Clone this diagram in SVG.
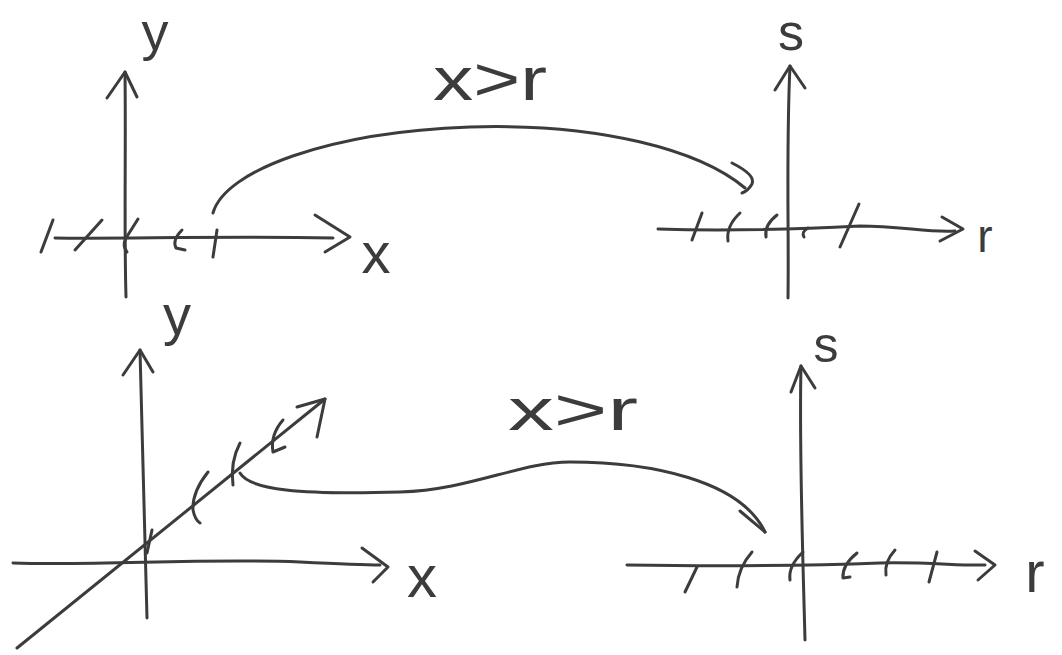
<svg xmlns="http://www.w3.org/2000/svg" width="1062" height="655" viewBox="0 0 1062 655">
<style>
.s{fill:none;stroke:#3c3c3c;stroke-width:3;stroke-linecap:round;stroke-linejoin:round}
.t{fill:#3c3c3c;font-family:"Liberation Sans",Arial,sans-serif;text-anchor:middle}
</style>
<rect width="1062" height="655" fill="#ffffff"/>
<g id="plot-top-left">
<path class="s" d="M126,297 C124,230 126,150 125,72"/>
<path class="s" d="M107,98 L125,72 L137,97"/>
<path class="s" d="M55,238 C120,239 220,236 333,238"/>
<path class="s" d="M315,215 L350,237 L325,252"/>
<path class="s" d="M53,220 L41,252"/>
<path class="s" d="M102,220 L75,250"/>
<path class="s" d="M138,219 L126,238 Q122,246 127,252"/>
<path class="s" d="M182,230 Q172,240 176,248 L185,250"/>
<path class="s" d="M217,230 L213,257"/>
<text class="t" x="155" y="50" font-size="54">y</text>
<text class="t" x="376" y="273" font-size="58">x</text>
</g>
<g id="plot-top-right">
<path class="s" d="M788,298 C789,230 786,150 790,66"/>
<path class="s" d="M775,90 L790,66 L805,88"/>
<path class="s" d="M658,229 C720,231 800,229 860,226 C900,226 930,233 955,231"/>
<path class="s" d="M942,217 L963,229 L940,241"/>
<path class="s" d="M702,213 L692,240"/>
<path class="s" d="M740,213 Q726,226 728,241"/>
<path class="s" d="M777,215 Q764,225 766,237"/>
<path class="s" d="M808,228 Q801,232 804,237"/>
<path class="s" d="M859,204 L840,247"/>
<text class="t" x="791" y="50" font-size="52">s</text>
<text class="t" x="985" y="252" font-size="46">r</text>
</g>
<g id="plot-bottom-left">
<path class="s" d="M147,618 C145,520 142,440 140,350"/>
<path class="s" d="M123,375 L140,350 L153,372"/>
<path class="s" d="M13,563 C100,566 200,558 300,562 C340,564 360,565 380,565"/>
<path class="s" d="M362,548 L388,567 L373,582"/>
<path class="s" d="M17,648 L325,399"/>
<path class="s" d="M297,407 L325,399 L317,437"/>
<path class="s" d="M152,530 L147,553"/>
<path class="s" d="M208,472 Q192,492 193,510 Q195,520 200,523"/>
<path class="s" d="M240,443 Q230,462 233,485"/>
<path class="s" d="M283,420 Q270,435 273,452 L285,447"/>
<text class="t" x="177" y="334" font-size="56">y</text>
<text class="t" x="422" y="597" font-size="60">x</text>
</g>
<g id="plot-bottom-right">
<path class="s" d="M805,640 C803,560 799,450 801,366"/>
<path class="s" d="M791,392 L801,366 L815,388"/>
<path class="s" d="M627,565 C700,566 800,566 880,563 C930,562 960,566 985,565"/>
<path class="s" d="M975,551 L995,565 L978,580"/>
<path class="s" d="M697,567 L685,592"/>
<path class="s" d="M752,552 Q738,568 737,587"/>
<path class="s" d="M803,552 Q788,566 790,580"/>
<path class="s" d="M857,553 Q842,565 843,578 L850,577"/>
<path class="s" d="M895,550 Q884,562 886,575"/>
<path class="s" d="M937,552 L929,582"/>
<text class="t" x="826" y="362" font-size="50">s</text>
<text class="t" x="1035" y="592" font-size="58">r</text>
</g>
<g id="connectors">
<path class="s" d="M213,213 C225,170 330,132 470,127 C600,123 700,150 745,188"/>
<path class="s" d="M732,163 Q756,175 752,184 Q748,191 742,193"/>
<text class="t" x="490" y="100" font-size="62" textLength="114" lengthAdjust="spacingAndGlyphs">x&gt;r</text>
<path class="s" d="M240,473 C250,490 300,495 400,492 C470,490 520,462 570,462 C650,462 740,480 765,532"/>
<path class="s" d="M740,511 L765,532"/>
<text class="t" x="573" y="430" font-size="60" textLength="130" lengthAdjust="spacingAndGlyphs">x&gt;r</text>
</g>
</svg>
